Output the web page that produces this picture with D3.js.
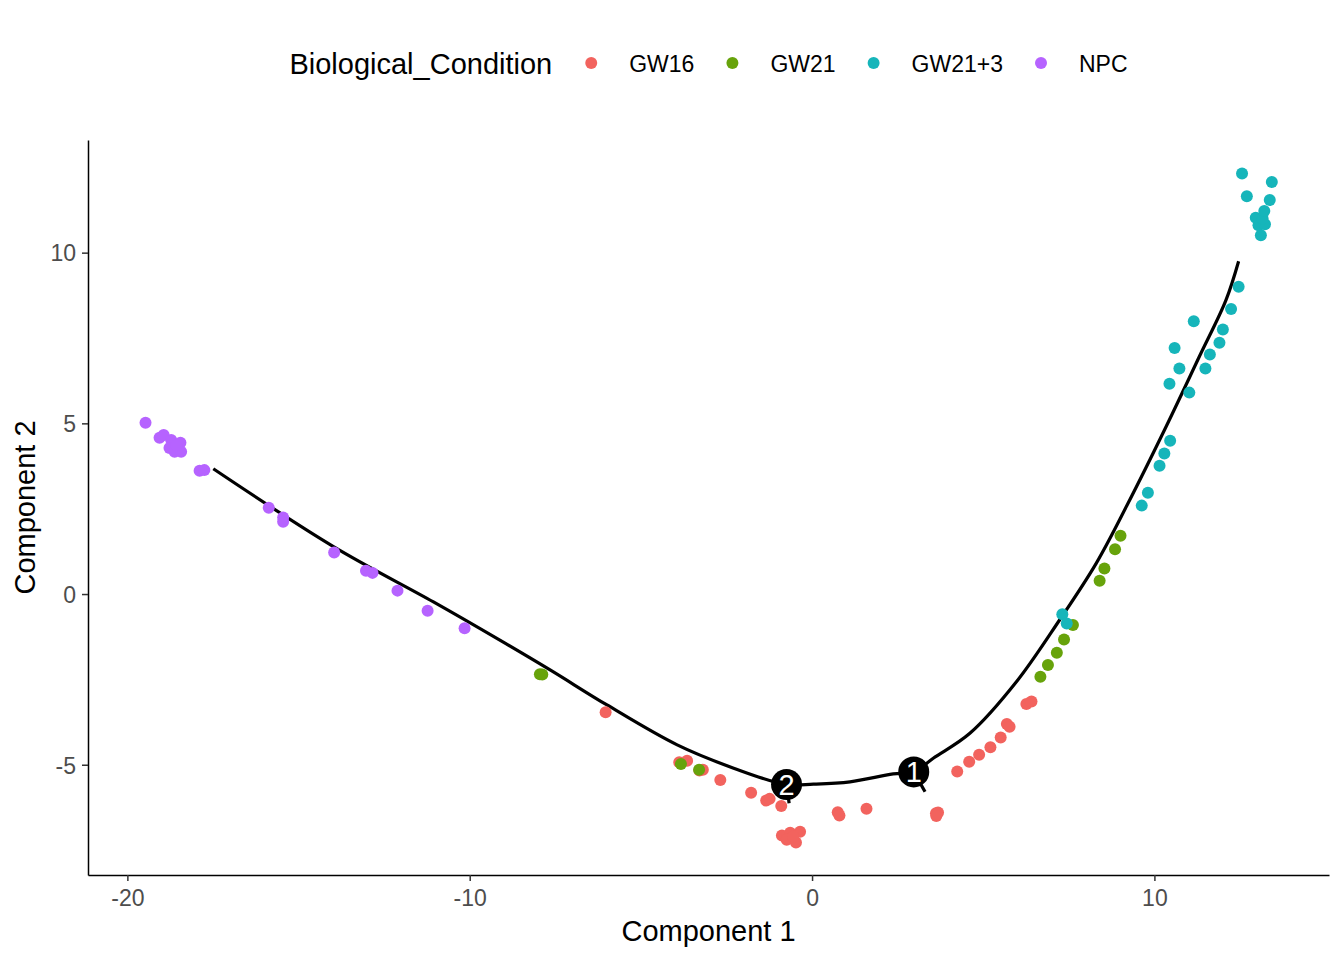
<!DOCTYPE html>
<html>
<head>
<meta charset="utf-8">
<script src="https://cdn.jsdelivr.net/npm/d3@7"></script>
<style>
  body { margin: 0; background: #fff; }
  text { font-family: "Liberation Sans", Arial, sans-serif; }
</style>
</head>
<body>
<div id="chart"></div>
<script>
// groups and colours
var groups = ["GW16", "GW21", "GW21+3", "NPC"];
var colors = ["#F2635E", "#67A30B", "#16B5BA", "#B663FF"];

// cell coordinates per group (Component 1, Component 2)
var gw16X = [-6.03, -3.88, -3.65, -3.29, -3.19, -2.68, -1.78, -1.34, -1.24, -0.90, -0.88, -0.64, -0.35, -0.74, -0.47, -0.55, 0.75, 0.80, 1.59, 3.62, 3.68, 3.63, 4.24, 4.59, 4.88, 5.21, 5.51, 5.69, 5.77, 6.26, 6.41];
var gw16Y = [-3.46, -4.93, -4.88, -5.17, -5.15, -5.45, -5.82, -6.05, -6.00, -6.21, -7.07, -6.99, -6.96, -7.20, -7.28, -7.10, -6.39, -6.49, -6.29, -6.42, -6.40, -6.50, -5.20, -4.91, -4.71, -4.49, -4.20, -3.81, -3.89, -3.22, -3.15];

var gw21X = [-7.95, -7.88, -3.83, -3.30, 6.67, 6.89, 7.15, 7.36, 7.62, 8.40, 8.54, 8.85, 9.01];
var gw21Y = [-2.35, -2.36, -4.98, -5.15, -2.42, -2.08, -1.72, -1.33, -0.91, 0.39, 0.75, 1.31, 1.71];

var gw213X = [7.31, 7.44, 9.63, 9.81, 10.15, 10.29, 10.46, 11.02, 10.44, 10.73, 11.49, 11.62, 10.59, 11.90, 12.00, 11.15, 12.24, 12.46, 13.11, 13.04, 13.23, 12.96, 13.16, 13.21, 13.37, 12.70, 13.43, 12.56];
var gw213Y = [-0.59, -0.86, 2.59, 2.97, 3.76, 4.12, 4.49, 5.90, 6.16, 6.61, 6.61, 7.02, 7.21, 7.36, 7.75, 7.99, 8.35, 9.00, 10.51, 10.80, 10.83, 11.02, 11.00, 11.22, 11.54, 11.65, 12.07, 12.32];

var npcX = [-19.47, -19.06, -18.94, -18.72, -18.45, -18.77, -18.62, -18.43, -18.57, -17.89, -17.75, -15.87, -15.45, -15.45, -13.96, -13.03, -12.84, -12.11, -11.23, -10.15];
var npcY = [5.02, 4.58, 4.66, 4.51, 4.43, 4.28, 4.17, 4.17, 4.36, 3.61, 3.63, 2.53, 2.24, 2.12, 1.22, 0.68, 0.62, 0.10, -0.49, -1.00];

// trajectory backbone
var trajX = [-17.49, -13.98, -11.06, -9.12, -7.64, -5.99, -3.94, -2.29, -0.745, 0.04, 1.11, 2.37, 2.97, 3.54, 4.61, 5.97, 7.23, 8.30, 9.20, 10.34, 11.31, 12.09, 12.46];
var trajY = [3.67, 1.39, -0.23, -1.35, -2.23, -3.25, -4.42, -5.10, -5.58, -5.57, -5.50, -5.27, -5.21, -4.81, -4.08, -2.57, -0.76, 0.90, 2.60, 4.90, 6.95, 8.61, 9.75];

// short side branches from the branch points
var branchFromX = [-0.745, 2.97];
var branchFromY = [-5.58, -5.21];
var branchToX = [-0.67, 3.30];
var branchToY = [-6.13, -5.79];

// branch point labels
var nodeLabels = ["2", "1"];
var nodeX = [-0.745, 2.97];
var nodeY = [-5.58, -5.21];

var xTicks = [-20, -10, 0, 10];
var yTicks = [-5, 0, 5, 10];

var w = 1344;
var h = 960;
var margin = {left: 88, right: 15, top: 140, bottom: 85};

var svg = d3.select("#chart")
    .append("svg")
    .attr("width", w)
    .attr("height", h);

var x = d3.scaleLinear()
    .domain([-21.15, 15.10])
    .range([margin.left, w - margin.right]);

var y = d3.scaleLinear()
    .domain([-8.23, 13.30])
    .range([h - margin.bottom, margin.top]);

// plain hyphen for negatives, like the original
var fmt = function(d) { return String(d); };

// axes
var xAxis = svg.append("g")
    .attr("transform", "translate(0," + (h - margin.bottom) + ")")
    .call(d3.axisBottom(x).tickValues(xTicks).tickFormat(fmt)
        .tickSizeInner(6).tickSizeOuter(0).tickPadding(8));

var yAxis = svg.append("g")
    .attr("transform", "translate(" + margin.left + ",0)")
    .call(d3.axisLeft(y).tickValues(yTicks).tickFormat(fmt)
        .tickSizeInner(6).tickSizeOuter(0).tickPadding(6));

[xAxis, yAxis].forEach(function(a) {
    a.select(".domain").attr("stroke", "#000").attr("stroke-width", 1.5);
    a.selectAll(".tick line").attr("stroke", "#333").attr("stroke-width", 1.5);
    a.selectAll(".tick text")
        .attr("fill", "#4D4D4D")
        .style("font-size", "23px")
        .style("font-family", "'Liberation Sans', Arial, sans-serif");
});
yAxis.selectAll(".tick text").attr("dy", "0.36em");
xAxis.selectAll(".tick text").attr("dy", "0.72em");

// axis titles
svg.append("text")
    .attr("x", (margin.left + w - margin.right) / 2)
    .attr("y", 941)
    .attr("text-anchor", "middle")
    .style("font-size", "29px")
    .text("Component 1");

svg.append("text")
    .attr("transform", "translate(35," + ((margin.top + h - margin.bottom) / 2) + ") rotate(-90)")
    .attr("text-anchor", "middle")
    .style("font-size", "29px")
    .text("Component 2");

// trajectory
var trajectory = trajX.map(function(d, i) { return [d, trajY[i]]; });
var line = d3.line()
    .curve(d3.curveCatmullRom.alpha(0.5))
    .x(function(d) { return x(d[0]); })
    .y(function(d) { return y(d[1]); });

svg.append("path")
    .datum(trajectory)
    .attr("d", line)
    .attr("fill", "none")
    .attr("stroke", "#000")
    .attr("stroke-width", 3.2);

svg.selectAll("line.branch")
    .data(branchFromX)
    .enter()
    .append("line")
    .attr("class", "branch")
    .attr("x1", function(d) { return x(d); })
    .attr("y1", function(d, i) { return y(branchFromY[i]); })
    .attr("x2", function(d, i) { return x(branchToX[i]); })
    .attr("y2", function(d, i) { return y(branchToY[i]); })
    .attr("stroke", "#000")
    .attr("stroke-width", 3.2);

// cells
var series = [[gw16X, gw16Y], [gw21X, gw21Y], [gw213X, gw213Y], [npcX, npcY]];
series.forEach(function(s, k) {
    var pts = s[0].map(function(d, i) { return [d, s[1][i]]; });
    svg.append("g")
        .selectAll("circle")
        .data(pts)
        .enter()
        .append("circle")
        .attr("cx", function(d) { return x(d[0]); })
        .attr("cy", function(d) { return y(d[1]); })
        .attr("r", 6)
        .attr("fill", colors[k]);
});

// branch point markers
var nodes = svg.selectAll("g.node")
    .data(nodeLabels)
    .enter()
    .append("g")
    .attr("class", "node")
    .attr("transform", function(d, i) {
        return "translate(" + x(nodeX[i]) + "," + y(nodeY[i]) + ")";
    });
nodes.append("circle")
    .attr("r", 15.5)
    .attr("fill", "#000");
nodes.append("text")
    .attr("text-anchor", "middle")
    .attr("dy", "0.36em")
    .attr("fill", "#fff")
    .style("font-size", "29px")
    .text(function(d) { return d; });

// legend
var legend = svg.append("g");
var legendY = 64;
var title = legend.append("text")
    .attr("x", 0)
    .attr("y", legendY + 10)
    .style("font-size", "29px")
    .text("Biological_Condition");

var pos = title.node().getComputedTextLength() + 39;
groups.forEach(function(g, i) {
    legend.append("circle")
        .attr("cx", pos)
        .attr("cy", legendY - 1)
        .attr("r", 6)
        .attr("fill", colors[i]);
    var t = legend.append("text")
        .attr("x", pos + 38)
        .attr("y", legendY + 8)
        .style("font-size", "23px")
        .text(g);
    pos = pos + 38 + t.node().getComputedTextLength() + 38;
});
var legendWidth = pos - 38;
var panelCenter = (margin.left + w - margin.right) / 2;
legend.attr("transform", "translate(" + (panelCenter - legendWidth / 2) + ",0)");
</script>
</body>
</html>
